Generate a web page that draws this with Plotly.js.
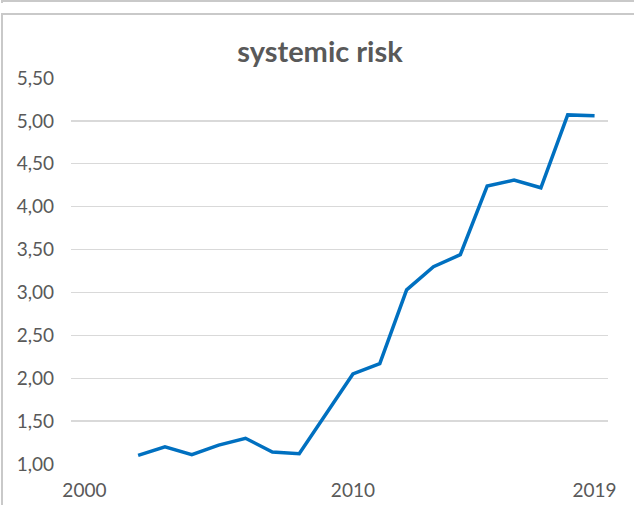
<!DOCTYPE html>
<html>
<head>
<meta charset="utf-8">
<script src="https://cdn.plot.ly/plotly-3.0.1.min.js"></script>
<style>
  html, body { margin: 0; padding: 0; background: #ffffff; }
  #wrap { position: relative; width: 634px; height: 505px; overflow: hidden; }
  #chart { position: absolute; left: 0; top: 0; width: 634px; height: 505px; }
  .ln { position: absolute; background: #c9c9c9; }
</style>
</head>
<body>
<div id="wrap">
  <div id="chart"></div>
  <div class="ln" style="left:2px; top:0px; width:632px; height:2px;"></div>
  <div class="ln" style="left:1px; top:0px; width:2px; height:3px;"></div>
  <div class="ln" style="left:2px; top:13px; width:632px; height:2px;"></div>
  <div class="ln" style="left:1px; top:13px; width:2px; height:492px;"></div>
</div>
<script>
const years = [2002, 2003, 2004, 2005, 2006, 2007, 2008, 2009, 2010, 2011,
               2012, 2013, 2014, 2015, 2016, 2017, 2018, 2019];
const systemicRisk = [1.10, 1.20, 1.11, 1.22, 1.30, 1.14, 1.12, 1.59, 2.05, 2.17,
                      3.03, 3.30, 3.44, 4.24, 4.31, 4.22, 5.07, 5.06];
const xTickVals = [2000, 2010, 2019];
const xTickText = ['2000', '2010', '2019'];
const yTickVals = [1.0, 1.5, 2.0, 2.5, 3.0, 3.5, 4.0, 4.5, 5.0, 5.5];
const chartTitle = 'systemic risk';

const trace = {
  x: years,
  y: systemicRisk,
  type: 'scatter',
  mode: 'lines',
  line: { color: '#0070C0', width: 3.5 },
  hoverinfo: 'skip'
};

const layout = {
  width: 634,
  height: 505,
  margin: { l: 71, r: 26, t: 78, b: 41, pad: 0 },
  paper_bgcolor: '#ffffff',
  plot_bgcolor: '#ffffff',
  separators: ', ',
  showlegend: false,
  font: { family: 'Lato, sans-serif', color: '#595959', size: 19 },
  title: {
    text: '<b>' + chartTitle + '</b>',
    font: { family: 'Lato, sans-serif', size: 29, color: '#595959' },
    x: 320 / 634, xref: 'container', xanchor: 'center',
    y: 1 - 52 / 505, yref: 'container', yanchor: 'middle'
  },
  xaxis: {
    range: [1999.5, 2019.5],
    tickmode: 'array',
    tickvals: xTickVals,
    ticktext: xTickText,
    showgrid: false,
    zeroline: false,
    showline: false,
    ticks: '',
    ticklabelstandoff: 13,
    tickfont: { family: 'Lato, sans-serif', size: 19, color: '#595959' },
    fixedrange: true
  },
  yaxis: {
    range: [1.0, 5.5],
    tickmode: 'array',
    tickvals: yTickVals,
    tickformat: '.2f',
    showgrid: true,
    gridcolor: '#d9d9d9',
    gridwidth: 1.3,
    zeroline: false,
    showline: false,
    ticks: '',
    ticklabelstandoff: 16,
    tickfont: { family: 'Lato, sans-serif', size: 19, color: '#595959' },
    fixedrange: true
  }
};

Plotly.newPlot('chart', [trace], layout, { displayModeBar: false, staticPlot: true });
</script>
</body>
</html>
